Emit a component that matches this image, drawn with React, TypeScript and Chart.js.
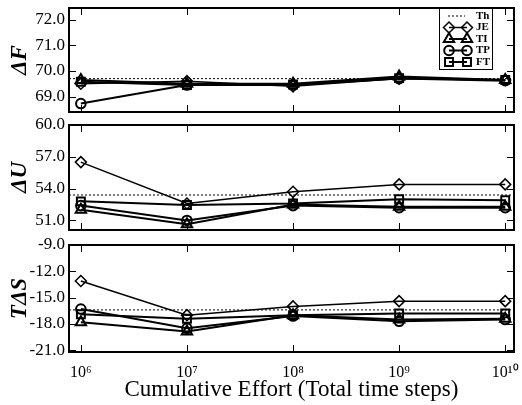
import React, { useEffect, useRef } from 'react';
import { Chart, registerables } from 'chart.js';
import { drawPoint } from 'chart.js/helpers';

Chart.register(...registerables);

// ---------- data ----------
const X_VALUES = [1e6, 1e7, 1e8, 1e9, 1e10];
const X_TICK_LABELS = ['10⁶', '10⁷', '10⁸', '10⁹', '10¹⁰'];
const X_MIN = 7.73e5;
const X_MAX = 1.21e10;
const X_TITLE = 'Cumulative Effort (Total time steps)';

const SERIES_NAMES = ['JE', 'TI', 'TP', 'FT'];
const TH_NAME = 'Th';

// ΔF panel
const F_TH = 69.7;
const F_JE = [69.5, 69.6, 69.4, 69.7, 69.65];
const F_TI = [69.65, 69.5, 69.5, 69.78, 69.65];
const F_TP = [68.73, 69.45, 69.45, 69.7, 69.62];
const F_FT = [69.58, 69.45, 69.47, 69.72, 69.65];
const F_TICKS = [69, 70, 71, 72];
const F_RANGE = [68.4, 72.45];

// ΔU panel
const U_TH = 53.4;
const U_JE = [56.5, 52.6, 53.7, 54.4, 54.4];
const U_TI = [52.0, 50.65, 52.5, 52.3, 52.3];
const U_TP = [52.4, 51.0, 52.4, 52.2, 52.2];
const U_FT = [52.8, 52.45, 52.6, 53.0, 52.9];
const U_TICKS = [51, 54, 57, 60];
const U_RANGE = [50.1, 60];

// TΔS panel
const S_TH = -16.4;
const S_JE = [-13.1, -17.0, -16.0, -15.4, -15.4];
const S_TI = [-17.8, -18.85, -17.0, -17.5, -17.4];
const S_TP = [-16.3, -18.5, -17.1, -17.7, -17.5];
const S_FT = [-16.9, -17.4, -17.0, -16.8, -16.8];
const S_TICKS = [-21, -18, -15, -12, -9];
const S_RANGE = [-21.2, -9];

// ---------- styles ----------
const MARKERS: Record<string, { style: string; radius: number; width: number }> = {
  JE: { style: 'rectRot', radius: 5.5, width: 1.5 },
  TI: { style: 'triangle', radius: 6, width: 2 },
  TP: { style: 'circle', radius: 4.8, width: 2 },
  FT: { style: 'rect', radius: 5.6, width: 2 },
};
const TH_DASH = [2, 2];
const FONT = 'Liberation Serif';
Chart.defaults.font.family = FONT;
Chart.defaults.color = '#000';

const CANVAS_W = 522;
const AREA_LEFT = 69;
const AREA_RIGHT = 518;
const TICK_LEN = 7;

interface PanelSpec {
  title: string;
  th: number;
  series: number[][];
  ticks: number[];
  range: number[];
  top: number;
  height: number;
  padTop: number;
  padBottom: number;
  xHeight: number;
  showX: boolean;
  legend: boolean;
}

const PANELS: PanelSpec[] = [
  { title: 'ΔF', th: F_TH, series: [F_JE, F_TI, F_TP, F_FT], ticks: F_TICKS, range: F_RANGE,
    top: 0, height: 120, padTop: 7, padBottom: 7, xHeight: 0, showX: false, legend: true },
  { title: 'ΔU', th: U_TH, series: [U_JE, U_TI, U_TP, U_FT], ticks: U_TICKS, range: U_RANGE,
    top: 112, height: 126, padTop: 13, padBottom: 5, xHeight: 0, showX: false, legend: false },
  { title: 'TΔS', th: S_TH, series: [S_JE, S_TI, S_TP, S_FT], ticks: S_TICKS, range: S_RANGE,
    top: 232, height: 173, padTop: 13, padBottom: 0, xHeight: 53, showX: true, legend: false },
];

function drawFrame(chart: any) {
  const ctx: CanvasRenderingContext2D = chart.ctx;
  const a = chart.chartArea;
  const xs = chart.scales['x'];
  const ys = chart.scales['y'];
  ctx.save();
  ctx.setLineDash([]);
  ctx.globalAlpha = 1;
  ctx.fillStyle = '#000000';
  X_VALUES.forEach((v) => {
    const px = Math.round(xs.getPixelForValue(v));
    ctx.fillRect(px, a.top, 1, TICK_LEN);
    ctx.fillRect(px, a.bottom - TICK_LEN, 1, TICK_LEN);
  });
  ys.ticks.forEach((t: any) => {
    const py = Math.round(ys.getPixelForValue(t.value));
    ctx.fillRect(a.left, py, TICK_LEN, 1);
    ctx.fillRect(a.right - TICK_LEN, py, TICK_LEN, 1);
  });
  ctx.strokeStyle = '#000000';
  ctx.lineWidth = 2;
  ctx.strokeRect(a.left, a.top, a.right - a.left, a.bottom - a.top);
  ctx.restore();
}

const framePlugin = {
  id: 'frameTicks',
  afterDraw(chart: any) {
    drawFrame(chart);
  },
};

const legendPlugin = {
  id: 'boxLegend',
  afterDraw(chart: any, _args: any, opts: any) {
    if (!opts || !opts.show) return;
    const { ctx, chartArea: a } = chart;
    const boxL = 439, boxR = 492, boxT = a.top, boxB = a.top + 61;
    ctx.save();
    ctx.fillStyle = '#fff';
    ctx.fillRect(boxL, boxT, boxR - boxL, boxB - boxT);
    ctx.strokeStyle = '#000';
    ctx.lineWidth = 1;
    ctx.strokeRect(boxL + 0.5, boxT + 0.5, boxR - boxL, boxB - boxT);
    const rows = [TH_NAME, ...SERIES_NAMES];
    const x1 = 449, x2 = 467, tx = 476;
    ctx.font = `bold 11px ${FONT}`;
    ctx.textBaseline = 'middle';
    rows.forEach((name, i) => {
      const y = boxT + 8 + i * 11.5;
      ctx.strokeStyle = '#000';
      ctx.fillStyle = 'rgba(0,0,0,0)';
      if (name === TH_NAME) {
        ctx.lineWidth = 1;
        ctx.setLineDash(TH_DASH);
        ctx.beginPath(); ctx.moveTo(x1 - 1, y); ctx.lineTo(x2 - 2, y); ctx.stroke();
        ctx.setLineDash([]);
      } else {
        const m = MARKERS[name];
        ctx.lineWidth = m.width;
        ctx.beginPath(); ctx.moveTo(x1, y); ctx.lineTo(x2, y); ctx.stroke();
        const o = { pointStyle: m.style, radius: m.radius, rotation: 0, borderWidth: m.width };
        drawPoint(ctx, o as any, x1, y);
        drawPoint(ctx, o as any, x2, y);
      }
      ctx.fillStyle = '#000';
      ctx.fillText(name, tx, y);
    });
    ctx.restore();
  },
};

function buildConfig(p: PanelSpec): any {
  const datasets: any[] = [
    {
      label: TH_NAME,
      data: [{ x: X_MIN, y: p.th }, { x: X_MAX, y: p.th }],
      borderColor: '#000', borderWidth: 1, borderDash: TH_DASH,
      pointRadius: 0, fill: false, order: 5,
    },
    ...SERIES_NAMES.map((name, i) => {
      const m = MARKERS[name];
      return {
        label: name,
        data: X_VALUES.map((x, j) => ({ x, y: p.series[i][j] })),
        borderColor: '#000', borderWidth: m.width,
        pointStyle: m.style, pointRadius: m.radius,
        pointBorderColor: '#000', pointBorderWidth: m.width,
        pointBackgroundColor: 'rgba(0,0,0,0)', fill: false, tension: 0,
      };
    }),
  ];
  return {
    type: 'line',
    data: { datasets },
    plugins: [framePlugin, legendPlugin],
    options: {
      animation: false,
      responsive: false,
      events: [],
      layout: { padding: { left: 0, right: CANVAS_W - AREA_RIGHT, top: p.padTop, bottom: p.padBottom } },
      plugins: {
        legend: { display: false },
        tooltip: { enabled: false },
        boxLegend: { show: p.legend },
      },
      scales: {
        x: {
          type: 'logarithmic', min: X_MIN, max: X_MAX,
          afterBuildTicks: (s: any) => { s.ticks = X_VALUES.map((v) => ({ value: v })); },
          afterFit: (s: any) => { s.height = p.xHeight; s.paddingLeft = 0; s.paddingRight = 0; },
          grid: { display: false, drawTicks: false }, border: { display: false },
          ticks: {
            display: p.showX, autoSkip: false, maxRotation: 0, minRotation: 0, padding: 11,
            font: { size: 16 }, color: '#000',
            callback: (_v: any, i: number) => X_TICK_LABELS[i],
          },
          title: { display: p.showX, text: X_TITLE, font: { size: 23 }, color: '#000', padding: { top: 0, bottom: 1 } },
        },
        y: {
          type: 'linear', min: p.range[0], max: p.range[1],
          afterBuildTicks: (s: any) => { s.ticks = p.ticks.map((v) => ({ value: v })); },
          afterFit: (s: any) => { s.width = AREA_LEFT; s.paddingTop = 0; s.paddingBottom = 0; },
          grid: { display: false, drawTicks: false }, border: { display: false },
          ticks: { padding: 4, font: { size: 17 }, color: '#000', callback: (v: any) => Number(v).toFixed(1) },
          title: { display: true, text: p.title, font: { size: 23, style: 'italic', weight: 'bold' }, color: '#000', padding: { top: 6, bottom: 0 } },
        },
      },
    },
  };
}

function Panel({ spec }: { spec: PanelSpec }) {
  const ref = useRef<HTMLCanvasElement | null>(null);
  useEffect(() => {
    if (!ref.current) return;
    const chart = new Chart(ref.current, buildConfig(spec));
    return () => chart.destroy();
  }, [spec]);
  return (
    <canvas
      ref={ref}
      width={CANVAS_W}
      height={spec.height}
      style={{ position: 'absolute', left: 0, top: spec.top, width: CANVAS_W, height: spec.height, display: 'block' }}
    />
  );
}

export default function App() {
  return (
    <div style={{ position: 'absolute', left: 0, top: 0, width: CANVAS_W, height: 405, background: '#fff', overflow: 'hidden' }}>
      {PANELS.map((p, i) => (
        <Panel key={i} spec={p} />
      ))}
    </div>
  );
}
